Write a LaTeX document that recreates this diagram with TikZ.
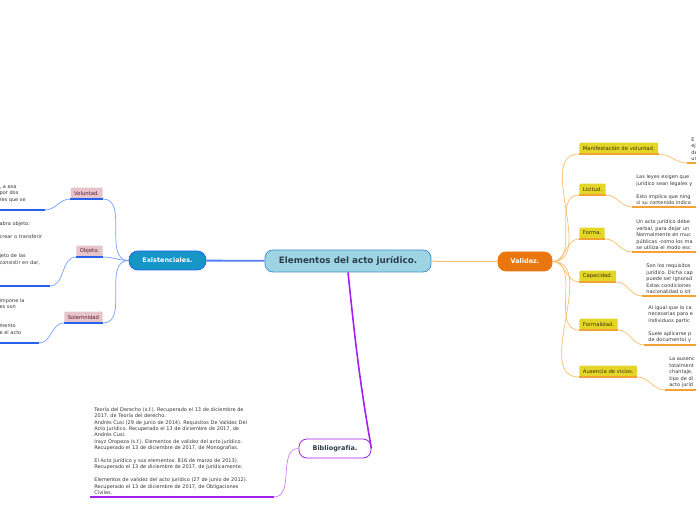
\documentclass[tikz,border=0pt]{standalone}
\usepackage{fontspec}
\setmainfont{DejaVu Sans}
\usepackage{tikz}
\usetikzlibrary{positioning}
\definecolor{rootfill}{RGB}{158, 212, 228}
\definecolor{rootline}{RGB}{64, 144, 210}
\definecolor{roottext}{RGB}{44, 62, 76}
\definecolor{existfill}{RGB}{22, 150, 198}
\definecolor{blueline}{RGB}{40, 96, 240}
\definecolor{bluethin}{RGB}{120, 160, 255}
\definecolor{pinkfill}{RGB}{230, 196, 203}
\definecolor{pinktext}{RGB}{90, 32, 48}
\definecolor{orangefill}{RGB}{234, 118, 16}
\definecolor{orangeline}{RGB}{245, 162, 52}
\definecolor{orangethin}{RGB}{250, 190, 110}
\definecolor{yellowfill}{RGB}{228, 214, 40}
\definecolor{yellowtext}{RGB}{60, 52, 0}
\definecolor{purpleline}{RGB}{162, 32, 240}
\definecolor{purplethin}{RGB}{200, 128, 255}
\definecolor{notetext}{RGB}{55, 55, 55}
\frenchspacing

\begin{document}
\begin{tikzpicture}[x=1pt, y=1pt, thick,
  root/.style={draw=rootline, fill=rootfill, rounded corners=8pt, minimum width=166pt, minimum height=22pt, text=roottext, font=\fontsize{8.8}{10}\selectfont\bfseries},
  topic/.style={rounded corners=8pt, minimum height=19pt, inner ysep=0pt, font=\fontsize{6.5}{7}\selectfont\bfseries},
  leaf/.style={rounded corners=1pt, minimum height=11pt, inner xsep=3.5pt, inner ysep=0pt, font=\fontsize{5.3}{6}\selectfont},
  note/.style={align=left, inner xsep=4pt, inner ysep=2pt, text=notetext, font=\fontsize{5}{6.4}\selectfont}]
  \useasboundingbox [fill=white] (0,0) rectangle (696,520);

  % nodes
  \node [root] (root) at (348,259) {Elementos del acto jurídico.};
  \node [topic, draw=blueline, fill=existfill, text=white, minimum width=77pt, rounded corners=9pt] (exist) at (167.5,259.5) {Existenciales.};
  \node [topic, draw=orangefill, fill=orangefill, text=white, minimum width=54pt] (valid) at (525,258.5) {Validez.};
  \node [topic, draw=purpleline, fill=white, text=roottext, minimum width=72pt] (biblio) at (335,71.5) {Bibliografía.};

  \node [leaf, fill=pinkfill, text=pinktext, anchor=south east] (vol) at (103,321) {Voluntad.};
  \node [leaf, fill=pinkfill, text=pinktext, anchor=south east] (obj) at (103,263) {Objeto.};
  \node [leaf, fill=pinkfill, text=pinktext, anchor=south east] (sol) at (103,197) {Solemnidad};

  \node [note, text width=41pt, anchor=south east] (vol_txt) at (45,310) {, a esa\\por dos\\res que se\\~};
  \node [note, text width=46pt, anchor=south east] (obj_txt) at (50,234) {abra objeto:\\~\\crear o transferir\\~\\~\\jeto de las\\consistir en dar,\\~\\~\\~};
  \node [note, text width=35pt, anchor=south east] (sol_txt) at (39,177) {impone la\\es son\\~\\~\\mento\\e el acto\\~};

  \node [leaf, fill=yellowfill, text=yellowtext, anchor=south west] (manif) at (579,366) {Manifestación de voluntad.};
  \node [leaf, fill=yellowfill, text=yellowtext, anchor=south west] (licit) at (579,325) {Licitud.};
  \node [leaf, fill=yellowfill, text=yellowtext, anchor=south west] (forma) at (579,281) {Forma.};
  \node [leaf, fill=yellowfill, text=yellowtext, anchor=south west] (capac) at (579,238) {Capacidad.};
  \node [leaf, fill=yellowfill, text=yellowtext, anchor=south west] (formal) at (579,190) {Formalidad.};
  \node [leaf, fill=yellowfill, text=yellowtext, anchor=south west] (vicios) at (579,143) {Ausencia de vicios.};

  \node [note, text width=100pt, anchor=south west] (manif_txt) at (687,357) {E\\ej\\de\\un};
  \node [note, text width=100pt, anchor=south west] (licit_txt) at (632,313) {Las leyes exigen que\\jurídico sean legales y\\~\\Esto implica que ning\\si su contenido indica};
  \node [note, text width=100pt, anchor=south west] (forma_txt) at (632,268) {Un acto jurídico debe\\verbal, para dejar un\\Normalmente en muc\\públicas -como los ma\\se utiliza el modo esc};
  \node [note, text width=100pt, anchor=south west] (capac_txt) at (642,224) {Son los requisitos\\jurídico. Dicha cap\\puede ser ignorad\\Estas condiciones\\nacionalidad o sit};
  \node [note, text width=100pt, anchor=south west] (formal_txt) at (644,175) {Al igual que la ca\\necesarias para e\\individuos partic\\~\\Suele aplicarse p\\de documento) y};
  \node [note, text width=100pt, anchor=south west] (vicios_txt) at (665,130) {La ausenc\\totalment\\chantaje,\\tipo de di\\acto juríd};

  \node [note, text width=175pt, anchor=south west] (biblio_txt) at (90,23) {Teoría del Derecho (s.f.). Recuperado el 13 de diciembre de\\2017, de Teoría del derecho.\\Andrés Cusi (29 de junio de 2014). Requisitos De Validez Del\\Acto Jurídico. Recuperado el 13 de diciembre de 2017, de\\Andrés Cusi.\\Irayz Oropeza (s.f.). Elementos de validez del acto jurídico.\\Recuperado el 13 de diciembre de 2017, de Monografías.\\~\\El Acto Jurídico y sus elementos. 816 de marzo de 2013).\\Recuperado el 13 de diciembre de 2017, de Jurídicamente.\\~\\Elementos de validez del acto jurídico (27 de junio de 2012).\\Recuperado el 13 de diciembre de 2017, de Obligaciones\\Civiles.};

  % edges
  \draw [blueline!80, line width=1.8pt] (root) to (exist);
  \draw [orangethin, line width=1pt] (root) to (valid);
  \draw [purpleline, line width=1.6pt] (root.south) to [out=-84, in=100] (biblio.east);

  \draw [bluethin, line width=0.7pt] (exist.west) to [out=180, in=0] (vol.south east);
  \draw [bluethin, line width=0.7pt] (exist.west) to [out=180, in=0] (obj.south east);
  \draw [bluethin, line width=0.7pt] (exist.west) to [out=180, in=0] (sol.south east);
  \draw [bluethin, line width=0.7pt] (vol.south west) to [out=180, in=0] (vol_txt.south east);
  \draw [bluethin, line width=0.7pt] (obj.south west) to [out=180, in=0] (obj_txt.south east);
  \draw [bluethin, line width=0.7pt] (sol.south west) to [out=180, in=0] (sol_txt.south east);
  \draw [blueline, line width=1.5pt] (vol.south west) to (vol.south east);
  \draw [blueline, line width=1.5pt] (obj.south west) to (obj.south east);
  \draw [blueline, line width=1.5pt] (sol.south west) to (sol.south east);
  \draw [blueline, line width=1.5pt] (vol_txt.south west) to (vol_txt.south east);
  \draw [blueline, line width=1.5pt] (obj_txt.south west) to (obj_txt.south east);
  \draw [blueline, line width=1.5pt] (sol_txt.south west) to (sol_txt.south east);

  \draw [orangethin, line width=0.7pt] (valid.east) to [out=0, in=180] (manif.south west);
  \draw [orangethin, line width=0.7pt] (valid.east) to [out=0, in=180] (licit.south west);
  \draw [orangethin, line width=0.7pt] (valid.east) to [out=0, in=180] (forma.south west);
  \draw [orangethin, line width=0.7pt] (valid.east) to [out=0, in=180] (capac.south west);
  \draw [orangethin, line width=0.7pt] (valid.east) to [out=0, in=180] (formal.south west);
  \draw [orangethin, line width=0.7pt] (valid.east) to [out=0, in=180] (vicios.south west);
  \draw [orangethin, line width=0.7pt] (manif.south east) to [out=0, in=180] (manif_txt.south west);
  \draw [orangethin, line width=0.7pt] (licit.south east) to [out=0, in=180] (licit_txt.south west);
  \draw [orangethin, line width=0.7pt] (forma.south east) to [out=0, in=180] (forma_txt.south west);
  \draw [orangethin, line width=0.7pt] (capac.south east) to [out=0, in=180] (capac_txt.south west);
  \draw [orangethin, line width=0.7pt] (formal.south east) to [out=0, in=180] (formal_txt.south west);
  \draw [orangethin, line width=0.7pt] (vicios.south east) to [out=0, in=180] (vicios_txt.south west);
  \draw [orangeline, line width=1.5pt] (manif.south west) to (manif.south east);
  \draw [orangeline, line width=1.5pt] (licit.south west) to (licit.south east);
  \draw [orangeline, line width=1.5pt] (forma.south west) to (forma.south east);
  \draw [orangeline, line width=1.5pt] (capac.south west) to (capac.south east);
  \draw [orangeline, line width=1.5pt] (formal.south west) to (formal.south east);
  \draw [orangeline, line width=1.5pt] (vicios.south west) to (vicios.south east);
  \draw [orangeline, line width=1.5pt] (manif_txt.south west) to (manif_txt.south east);
  \draw [orangeline, line width=1.5pt] (licit_txt.south west) to (licit_txt.south east);
  \draw [orangeline, line width=1.5pt] (forma_txt.south west) to (forma_txt.south east);
  \draw [orangeline, line width=1.5pt] (capac_txt.south west) to (capac_txt.south east);
  \draw [orangeline, line width=1.5pt] (formal_txt.south west) to (formal_txt.south east);
  \draw [orangeline, line width=1.5pt] (vicios_txt.south west) to (vicios_txt.south east);

  \draw [purplethin, line width=0.7pt] (biblio.west) to [out=180, in=0] (biblio_txt.south east);
  \draw [purpleline, line width=1.5pt] (biblio_txt.south west) to (biblio_txt.south east);
\end{tikzpicture}
\end{document}
